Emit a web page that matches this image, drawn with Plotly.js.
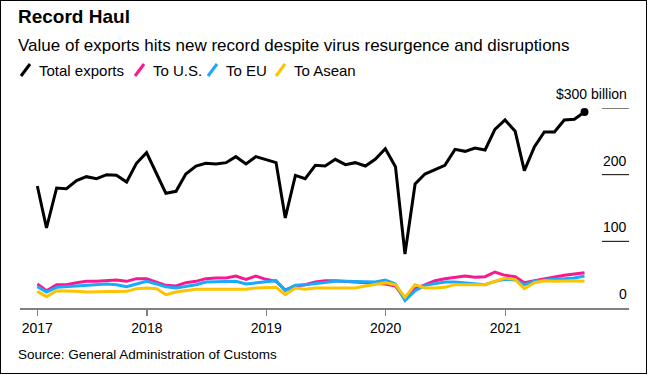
<!DOCTYPE html>
<html>
<head>
<meta charset="utf-8">
<script src="https://cdn.plot.ly/plotly-3.0.1.min.js"></script>
<style>
  html, body { margin: 0; padding: 0; background: #fff; }
  #wrap { position: relative; width: 649px; height: 375px; }
  #chart { width: 649px; height: 375px; }
  #frame { position: absolute; left: 0; top: 0; width: 645px; height: 372px; border: 1px solid #000; pointer-events: none; }
</style>
</head>
<body>
<div id="wrap"><div id="chart"></div><div id="frame"></div></div>
<script>
// ---- data (USD billions, monthly, Jan 2017 - Aug 2021) ----
const startYear = 2017, startMonth = 1, nMonths = 56;
const seriesNames = ['Total exports', 'To U.S.', 'To EU', 'To Asean'];
const totalExports = [
  183, 120, 180, 179, 191, 197, 194, 200, 199, 189, 217, 233,
  201, 172, 175, 201, 213, 217, 216, 218, 227, 216, 227, 222,
  218, 135, 199, 194, 214, 213, 223, 215, 218, 213, 223, 239,
  212, 81, 186, 201, 208, 214, 238, 235, 240, 237, 268, 282,
  265, 206, 242, 264, 264, 282, 283, 294
];
const toUS = [
  36, 26, 35, 35, 38, 40, 40, 41, 42, 40, 44, 44,
  39, 34, 33, 38, 40, 44, 45, 45, 48, 43, 48, 43,
  40, 27, 33, 35, 39, 41, 41, 40, 40, 39, 38, 36,
  33, 14, 29, 35, 41, 44, 46, 48, 46, 47, 54, 49,
  47, 38, 41, 44, 46, 49, 51, 53
];
const toEU = [
  32, 24, 31, 32, 34, 35, 35, 36, 35, 32, 36, 40,
  36, 32, 30, 32, 35, 39, 39, 40, 40, 36, 38, 40,
  41, 26, 34, 35, 37, 39, 40, 40, 40, 39, 39, 42,
  36, 11, 26, 34, 36, 39, 39, 38, 36, 35, 40, 43,
  42, 35, 40, 42, 43, 44, 45, 48
];
const toAsean = [
  25, 17, 26, 26, 25, 24, 24, 25, 25, 25, 29, 30,
  29, 20, 24, 26, 28, 28, 28, 28, 28, 28, 30, 31,
  31, 20, 30, 28, 30, 30, 30, 30, 30, 33, 36, 38,
  35, 16, 35, 30, 30, 31, 35, 35, 35, 35, 40, 45,
  43, 29, 38, 41, 40, 41, 41, 40
];
const xTickVals = ['2017-01-31', '2018-01-01', '2019-01-01', '2020-01-01', '2021-01-01'];
const xTickText = ['2017', '2018', '2019', '2020', '2021'];
const yTickVals = [0, 100, 200, 300];
const yTickText = ['0', '100', '200', '$300 billion'];

// month-end dates for each observation
const dates = [];
for (let i = 0; i < nMonths; i++) {
  const y = startYear + Math.floor((startMonth - 1 + i) / 12);
  const m = (startMonth - 1 + i) % 12; // 0-based
  const last = new Date(Date.UTC(y, m + 1, 0)).getUTCDate();
  dates.push(y + '-' + String(m + 1).padStart(2, '0') + '-' + String(last).padStart(2, '0'));
}

const colors = ['#000000', '#f7198f', '#1aaaf9', '#fcc300'];
const values = [totalExports, toUS, toEU, toAsean];
const FONT = '"Liberation Sans", Arial, Helvetica, sans-serif';

const traces = [];
// draw order: colored series first (US, EU, Asean), black on top
[1, 2, 3, 0].forEach(function (k) {
  traces.push({
    type: 'scatter', mode: 'lines', name: seriesNames[k],
    x: dates, y: values[k],
    line: { color: colors[k], width: 3, shape: 'linear' },
    hoverinfo: 'skip', showlegend: false
  });
});
traces.push({
  type: 'scatter', mode: 'markers',
  x: [dates[dates.length - 1]], y: [totalExports[totalExports.length - 1]],
  marker: { color: '#000', size: 8 }, hoverinfo: 'skip', showlegend: false, cliponaxis: false
});

// layout helpers: pixel -> paper
const ML = 20, MR = 20, MT = 108, MB = 67, W = 649, H = 375;
const PW = W - ML - MR, PH = H - MT - MB;
const px = x => (x - ML) / PW;
const py = y => (H - MB - y) / PH;

const annotations = [];
const shapes = [];

// title + subtitle
annotations.push({ xref: 'paper', yref: 'paper', x: px(16), y: py(17), xanchor: 'left', yanchor: 'middle',
  text: '<b>Record Haul</b>', showarrow: false, font: { family: FONT, size: 19, color: '#000' } });
annotations.push({ xref: 'paper', yref: 'paper', x: px(16), y: py(45), xanchor: 'left', yanchor: 'middle',
  text: 'Value of exports hits new record despite virus resurgence and disruptions', showarrow: false,
  font: { family: FONT, size: 17, color: '#000' } });

// legend (slash icon + label)
const legendIconX = [19, 133, 206, 274];
const legendTextX = [37, 151, 224, 292];
seriesNames.forEach(function (name, k) {
  shapes.push({ type: 'line', xref: 'paper', yref: 'paper',
    x0: px(legendIconX[k] + 2), y0: py(76), x1: px(legendIconX[k] + 11), y1: py(64),
    line: { color: colors[k], width: 3 } });
  annotations.push({ xref: 'paper', yref: 'paper', x: px(legendTextX[k]), y: py(70), xanchor: 'left', yanchor: 'middle',
    text: name, showarrow: false, font: { family: FONT, size: 15, color: '#000' } });
});

// right-side y labels with short rule underneath
yTickVals.forEach(function (v, i) {
  annotations.push({ xref: 'paper', yref: 'y', x: 1, y: v, xanchor: 'right', yanchor: 'bottom', yshift: 4,
    text: yTickText[i], showarrow: false, font: { family: FONT, size: 14, color: '#000' } });
  if (v !== 0) {
    shapes.push({ type: 'line', xref: 'paper', yref: 'y', x0: px(602), x1: 1, y0: v, y1: v,
      line: { color: '#000', width: 1 } });
  }
});

// source
annotations.push({ xref: 'paper', yref: 'paper', x: px(16), y: py(354), xanchor: 'left', yanchor: 'middle',
  text: 'Source: General Administration of Customs', showarrow: false,
  font: { family: FONT, size: 13.5, color: '#000' } });

const layout = {
  width: W, height: H,
  margin: { l: ML, r: MR, t: MT, b: MB, pad: 0 },
  paper_bgcolor: '#fff', plot_bgcolor: '#fff',
  showlegend: false,
  font: { family: FONT, size: 14, color: '#000' },
  xaxis: {
    type: 'date', range: ['2016-12-09', '2022-01-14'],
    tickmode: 'array', tickvals: xTickVals, ticktext: xTickText,
    ticks: 'outside', ticklen: 6, tickwidth: 1.5, tickcolor: '#808080',
    showline: true, linecolor: '#808080', linewidth: 2,
    showgrid: false, zeroline: false, fixedrange: true,
    tickfont: { family: FONT, size: 14, color: '#000' }
  },
  yaxis: {
    range: [0, 300], showticklabels: false, showgrid: false, zeroline: false,
    showline: false, ticks: '', fixedrange: true
  },
  annotations: annotations,
  shapes: shapes
};

Plotly.newPlot('chart', traces, layout, { displayModeBar: false, staticPlot: true });
</script>
</body>
</html>
